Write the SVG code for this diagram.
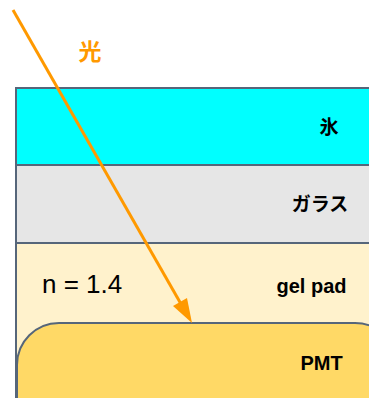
<svg xmlns="http://www.w3.org/2000/svg" width="369" height="398" viewBox="0 0 369 398">
<defs>
<style>
.layer{stroke:#56667a;stroke-width:2}
.lbl{font-family:"Liberation Sans","Noto Sans CJK JP",sans-serif;font-weight:bold;font-size:20px;fill:#000;text-anchor:middle}
.jp{font-family:"Noto Sans CJK JP",sans-serif;font-size:19px}
</style>
</defs>
<rect width="369" height="398" fill="#fff"/>
<g id="ice"><rect class="layer" x="16" y="88" width="370" height="77" fill="#00FFFF"/><text class="lbl jp" x="329" y="134">氷</text></g>
<g id="glass"><rect class="layer" x="16" y="165" width="370" height="78" fill="#E6E6E6"/><text class="lbl jp" x="320" y="211">ガラス</text></g>
<g id="gelpad"><rect class="layer" x="16" y="243" width="370" height="170" fill="#FFF2CC"/><text class="lbl" x="311.5" y="293">gel pad</text><text x="42" y="293" font-family="Liberation Sans,sans-serif" font-size="26" fill="#000">n = 1.4</text></g>
<g id="pmt"><rect class="layer" x="17" y="323" width="380" height="120" rx="42" ry="42" fill="#FFD966"/><text class="lbl" x="321.5" y="370">PMT</text></g>
<g id="connectors">
<line x1="13" y1="10" x2="185" y2="311" stroke="#FF9900" stroke-width="3"/>
<polygon points="192,323 173,306 187,298" fill="#FF9900"/>
</g>
<text x="90" y="60" font-family="Noto Sans CJK JP,sans-serif" font-weight="bold" font-size="23" fill="#FF9900" text-anchor="middle">光</text>
</svg>
